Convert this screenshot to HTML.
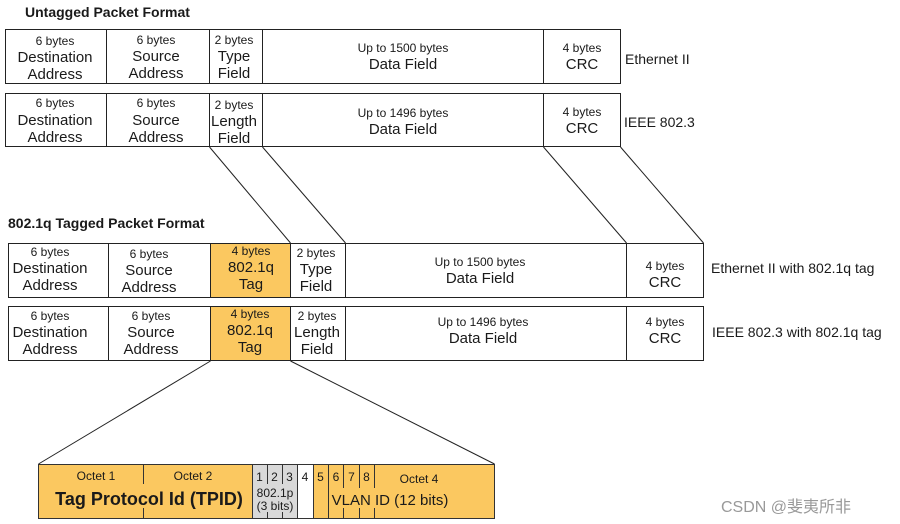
<!DOCTYPE html>
<html><head><meta charset="utf-8"><style>
body{margin:0;background:#fff}
svg{display:block}
text{font-family:"Liberation Sans",Arial,sans-serif;fill:#1a1a1a}
.s{font-size:12px}.m{font-size:15px}.l{font-size:14px}.b{font-weight:bold;font-size:14px}
</style></head><body>
<svg width="900" height="524" viewBox="0 0 900 524" xmlns="http://www.w3.org/2000/svg">
<g fill="none" stroke="#222" stroke-width="1">
<rect x="5.5" y="29.5" width="615" height="54"/>
<line x1="106.5" y1="29" x2="106.5" y2="84"/><line x1="209.5" y1="29" x2="209.5" y2="84"/><line x1="262.5" y1="29" x2="262.5" y2="84"/><line x1="543.5" y1="29" x2="543.5" y2="84"/>
<rect x="5.5" y="93.5" width="615" height="53"/>
<line x1="106.5" y1="93" x2="106.5" y2="147"/><line x1="209.5" y1="93" x2="209.5" y2="147"/><line x1="262.5" y1="93" x2="262.5" y2="147"/><line x1="543.5" y1="93" x2="543.5" y2="147"/>
<line x1="209.5" y1="147" x2="290.5" y2="243"/><line x1="262.5" y1="147" x2="345.5" y2="243"/>
<line x1="543.5" y1="147" x2="626.5" y2="243"/><line x1="620.5" y1="147" x2="703.5" y2="243"/>
</g>
<rect x="210.5" y="243.5" width="80" height="54" fill="#fbc860"/>
<rect x="210.5" y="306.5" width="80" height="54" fill="#fbc860"/>
<g fill="none" stroke="#222" stroke-width="1">
<rect x="8.5" y="243.5" width="695" height="54"/>
<line x1="108.5" y1="243" x2="108.5" y2="298"/><line x1="210.5" y1="243" x2="210.5" y2="298"/><line x1="290.5" y1="243" x2="290.5" y2="298"/><line x1="345.5" y1="243" x2="345.5" y2="298"/><line x1="626.5" y1="243" x2="626.5" y2="298"/>
<rect x="8.5" y="306.5" width="695" height="54"/>
<line x1="108.5" y1="306" x2="108.5" y2="361"/><line x1="210.5" y1="306" x2="210.5" y2="361"/><line x1="290.5" y1="306" x2="290.5" y2="361"/><line x1="345.5" y1="306" x2="345.5" y2="361"/><line x1="626.5" y1="306" x2="626.5" y2="361"/>
<line x1="210.5" y1="361" x2="38.5" y2="464"/><line x1="290.5" y1="361" x2="494.5" y2="464"/>
</g>
<rect x="38.5" y="464.5" width="456" height="54" fill="#fbc860"/>
<rect x="252" y="465" width="45" height="53" fill="#d9d9d9"/>
<rect x="297" y="465" width="16" height="53" fill="#fff"/>
<g fill="none" stroke="#333" stroke-width="1">
<rect x="38.5" y="464.5" width="456" height="54"/>
<line x1="143.5" y1="464" x2="143.5" y2="484"/><line x1="143.5" y1="508" x2="143.5" y2="518"/>
<line x1="252.5" y1="464" x2="252.5" y2="519"/>
<line x1="267.5" y1="464" x2="267.5" y2="484"/><line x1="267.5" y1="512" x2="267.5" y2="518"/>
<line x1="282.5" y1="464" x2="282.5" y2="484"/><line x1="282.5" y1="512" x2="282.5" y2="518"/>
<line x1="297.5" y1="464" x2="297.5" y2="519"/><line x1="313.5" y1="464" x2="313.5" y2="519"/>
<line x1="328.5" y1="464" x2="328.5" y2="519"/>
<line x1="343.5" y1="464" x2="343.5" y2="488"/><line x1="343.5" y1="508" x2="343.5" y2="518"/>
<line x1="359.5" y1="464" x2="359.5" y2="488"/><line x1="359.5" y1="508" x2="359.5" y2="518"/>
<line x1="374.5" y1="464" x2="374.5" y2="488"/><line x1="374.5" y1="508" x2="374.5" y2="518"/>
</g>
<text class="b" x="25" y="17">Untagged Packet Format</text>
<text class="b" x="8" y="228">802.1q Tagged Packet Format</text>
<g text-anchor="middle">
<text class="s" x="55" y="45">6 bytes</text><text class="m" x="55" y="62">Destination</text><text class="m" x="55" y="79">Address</text>
<text class="s" x="156" y="44">6 bytes</text><text class="m" x="156" y="61">Source</text><text class="m" x="156" y="78">Address</text>
<text class="s" x="234" y="44">2 bytes</text><text class="m" x="234" y="61">Type</text><text class="m" x="234" y="78">Field</text>
<text class="s" x="403" y="52">Up to 1500 bytes</text><text class="m" x="403" y="69">Data Field</text>
<text class="s" x="582" y="52">4 bytes</text><text class="m" x="582" y="69">CRC</text>

<text class="s" x="55" y="107">6 bytes</text><text class="m" x="55" y="125">Destination</text><text class="m" x="55" y="142">Address</text>
<text class="s" x="156" y="107">6 bytes</text><text class="m" x="156" y="125">Source</text><text class="m" x="156" y="142">Address</text>
<text class="s" x="234" y="109">2 bytes</text><text class="m" x="234" y="126">Length</text><text class="m" x="234" y="143">Field</text>
<text class="s" x="403" y="117">Up to 1496 bytes</text><text class="m" x="403" y="134">Data Field</text>
<text class="s" x="582" y="116">4 bytes</text><text class="m" x="582" y="133">CRC</text>

<text class="s" x="50" y="256">6 bytes</text><text class="m" x="50" y="273">Destination</text><text class="m" x="50" y="290">Address</text>
<text class="s" x="149" y="258">6 bytes</text><text class="m" x="149" y="275">Source</text><text class="m" x="149" y="292">Address</text>
<text class="s" x="251" y="255">4 bytes</text><text class="m" x="251" y="272">802.1q</text><text class="m" x="251" y="289">Tag</text>
<text class="s" x="316" y="257">2 bytes</text><text class="m" x="316" y="274">Type</text><text class="m" x="316" y="291">Field</text>
<text class="s" x="480" y="266">Up to 1500 bytes</text><text class="m" x="480" y="283">Data Field</text>
<text class="s" x="665" y="270">4 bytes</text><text class="m" x="665" y="287">CRC</text>

<text class="s" x="50" y="320">6 bytes</text><text class="m" x="50" y="337">Destination</text><text class="m" x="50" y="354">Address</text>
<text class="s" x="151" y="320">6 bytes</text><text class="m" x="151" y="337">Source</text><text class="m" x="151" y="354">Address</text>
<text class="s" x="250" y="318">4 bytes</text><text class="m" x="250" y="335">802.1q</text><text class="m" x="250" y="352">Tag</text>
<text class="s" x="317" y="320">2 bytes</text><text class="m" x="317" y="337">Length</text><text class="m" x="317" y="354">Field</text>
<text class="s" x="483" y="326">Up to 1496 bytes</text><text class="m" x="483" y="343">Data Field</text>
<text class="s" x="665" y="326">4 bytes</text><text class="m" x="665" y="343">CRC</text>

<text class="s" x="96" y="480">Octet 1</text><text class="s" x="193" y="480">Octet 2</text>
<text x="149" y="505" style="font-size:18px;font-weight:bold">Tag Protocol Id (TPID)</text>
<text class="s" x="259.5" y="481">1</text><text class="s" x="274.5" y="481">2</text><text class="s" x="289.5" y="481">3</text>
<text class="s" x="305" y="481">4</text><text class="s" x="320.5" y="481">5</text><text class="s" x="336" y="481">6</text><text class="s" x="351.5" y="481">7</text><text class="s" x="366.5" y="481">8</text>
<text class="s" x="419" y="483">Octet 4</text>
<text class="s" x="275" y="497">802.1p</text><text class="s" x="275" y="510">(3 bits)</text>
<text class="m" x="390" y="505">VLAN ID (12 bits)</text>
</g>
<text class="l" x="625" y="64">Ethernet II</text>
<text class="l" x="624" y="127">IEEE 802.3</text>
<text class="l" x="711" y="273">Ethernet II with 802.1q tag</text>
<text class="l" x="712" y="337">IEEE 802.3 with 802.1q tag</text>
<text x="721" y="512" style="font-size:16px;fill:#999;font-family:'Liberation Sans','Noto Sans CJK SC',sans-serif">CSDN @斐夷所非</text>
</svg>
</body></html>
